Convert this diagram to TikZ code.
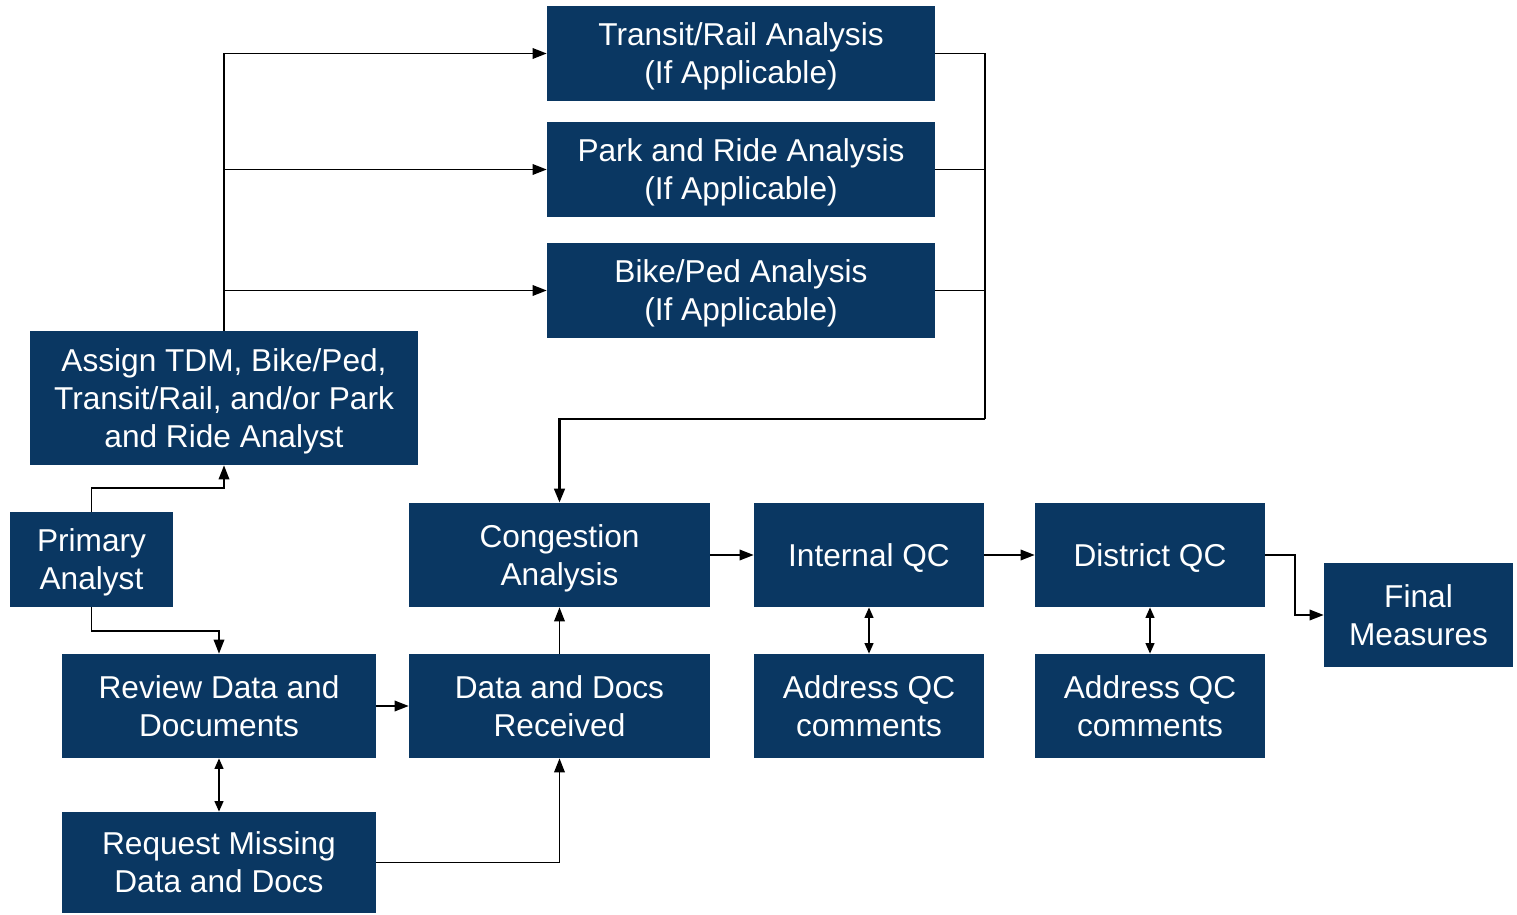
\documentclass[tikz,border=0pt]{standalone}
\usepackage{fontspec}
\setmainfont{Liberation Sans}
\usepackage{xcolor}
\usetikzlibrary{arrows.meta,positioning,calc}
\definecolor{navy}{HTML}{0A3762}

\begin{document}
\begin{tikzpicture}[
    x=0.02cm, y=-0.02cm,
    box/.style={rectangle, fill=navy, text=white, align=center, inner sep=0pt, font=\fontsize{18}{21.6}\selectfont, text depth=0pt},
    arrow/.style={-{Triangle[length=8pt, width=6pt]}, line width=1pt},
    twoway/.style={{Triangle[length=6pt, width=5pt]}-{Triangle[length=6pt, width=5pt]}, line width=1pt}
]
    \useasboundingbox (0,0) rectangle (1517,915);

    % Analyses (top column)
    \node[box, minimum width=7.76cm, minimum height=1.9cm] (transit) at (741,53.5) {Transit/Rail Analysis\\(If Applicable)};
    \node[box, minimum width=7.76cm, minimum height=1.9cm] (park) at (741,169.5) {Park and Ride Analysis\\(If Applicable)};
    \node[box, minimum width=7.76cm, minimum height=1.9cm] (bike) at (741,290.5) {Bike/Ped Analysis\\(If Applicable)};

    % Left column
    \node[box, minimum width=7.76cm, minimum height=2.68cm] (assign) at (224,398) {Assign TDM, Bike/Ped,\\Transit/Rail, and/or Park\\and Ride Analyst};
    \node[box, minimum width=3.26cm, minimum height=1.9cm] (primary) at (91.5,559.5) {Primary\\Analyst};
    \node[box, minimum width=6.28cm, minimum height=2.08cm] (review) at (219,706) {Review Data and\\Documents};
    \node[box, minimum width=6.28cm, minimum height=2.02cm] (request) at (219,862.5) {Request Missing\\Data and Docs};

    % Middle row
    \node[box, minimum width=6.02cm, minimum height=2.08cm] (congestion) at (559.5,555) {Congestion\\Analysis};
    \node[box, minimum width=6.02cm, minimum height=2.08cm] (received) at (559.5,706) {Data and Docs\\Received};
    \node[box, minimum width=4.6cm, minimum height=2.08cm] (internal) at (869,555) {Internal QC};
    \node[box, minimum width=4.6cm, minimum height=2.08cm] (address1) at (869,706) {Address QC\\comments};
    \node[box, minimum width=4.6cm, minimum height=2.08cm] (district) at (1150,555) {District QC};
    \node[box, minimum width=4.6cm, minimum height=2.08cm] (address2) at (1150,706) {Address QC\\comments};
    \node[box, minimum width=3.78cm, minimum height=2.08cm] (final) at (1418.5,615) {Final\\Measures};

    % Fan out to the analyses
    \draw[arrow] (assign.north) |- (transit.west);
    \draw[arrow] (assign.north) |- (park.west);
    \draw[arrow] (assign.north) |- (bike.west);

    % Collect back into congestion
    \coordinate (rail) at (985,419);
    \draw[line width=1pt] (transit.east) -| (rail);
    \draw[line width=1pt] (park.east) -- (park.east -| rail);
    \draw[line width=1pt] (bike.east) -- (bike.east -| rail);
    \draw[arrow, line width=1.6pt] (rail) -| (congestion.north);

    % Primary analyst
    \draw[arrow] (primary.north) |- ++(0,-24) -| (assign.south);
    \draw[arrow] (primary.south) |- ++(0,24) -| (review.north);

    % Data flow
    \draw[arrow] (review) -- (received);
    \draw[twoway] (review) -- (request);
    \draw[arrow] (request.east) -| (received.south);
    \draw[arrow] (received) -- (congestion);
    \draw[arrow] (congestion) -- (internal);
    \draw[twoway] (internal) -- (address1);
    \draw[arrow] (internal) -- (district);
    \draw[twoway] (district) -- (address2);
    \draw[arrow] (district.east) -- ++(30,0) |- (final.west);
\end{tikzpicture}
\end{document}
